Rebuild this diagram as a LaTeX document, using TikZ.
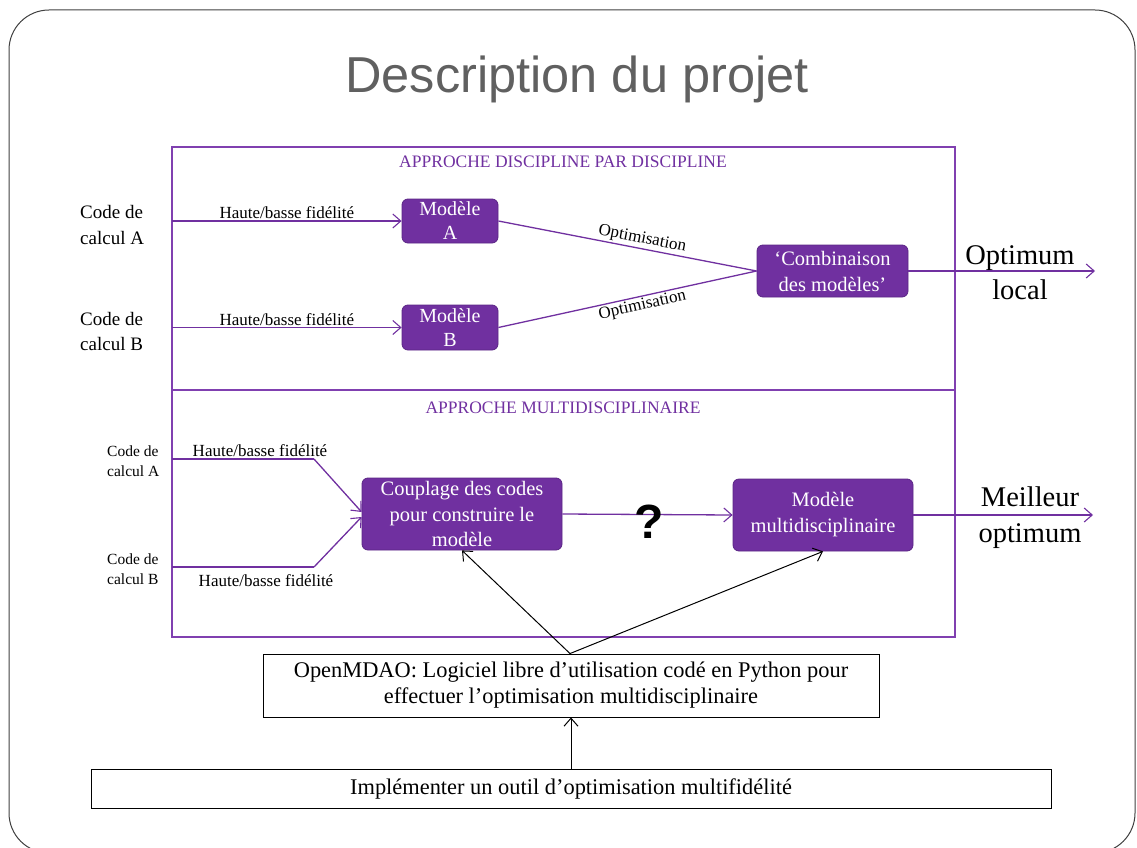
\documentclass[tikz,border=0pt]{standalone}
\usepackage{fontspec}
\setmainfont{Liberation Serif}
\newfontfamily\sansfam{Liberation Sans}
\usetikzlibrary{arrows.meta}
\definecolor{violet1}{RGB}{112,48,160}
\definecolor{violetframe}{RGB}{128,64,176}
\definecolor{violetdark}{RGB}{90,37,133}
\definecolor{titlegray}{RGB}{96,96,96}
\tikzset{
  pbox/.style={draw=violetdark, line width=0.8pt, fill=violet1, rounded corners=6pt,
    text=white, align=center, inner sep=0pt},
  wbox/.style={draw=black, line width=0.9pt, fill=white, align=center, inner sep=0pt},
  parrow/.style={draw=violet1, line width=1.3pt, -{Straight Barb[length=8pt,width=14pt,line width=1.1pt]}},
  pline/.style={draw=violet1, line width=1.3pt},
  barrow/.style={draw=black, line width=1pt, -{Straight Barb[length=8pt,width=14pt,line width=1pt]}},
  lbl/.style={inner sep=1.5pt, font=\fontsize{17}{20}\selectfont},
}
\begin{document}
\begin{tikzpicture}[x=1pt,y=-1pt]
\useasboundingbox (0,0) rectangle (1137,848);
% outer slide frame
\draw[draw=black!75, line width=1pt, rounded corners=40pt] (9,10) rectangle (1135,853);
% title
\node[anchor=base, text=titlegray, font=\sansfam\fontsize{50.5}{60}\selectfont] (title) at (577,93) {Description du projet};
% purple frame
\draw[draw=violetframe, line width=1.4pt] (172,147) rectangle (955,637);
\draw[draw=violetframe, line width=1.4pt] (172,390) -- (955,390);
\node[text=violet1, font=\fontsize{17.5}{20}\selectfont] (t1) at (563,162) {APPROCHE DISCIPLINE PAR DISCIPLINE};
\node[text=violet1, font=\fontsize{17.5}{20}\selectfont] (t2) at (563,408) {APPROCHE MULTIDISCIPLINAIRE};

% ---------- upper section
\node[anchor=west, align=left, inner sep=0pt, font=\fontsize{19}{25}\selectfont] (cA) at (80,225) {Code de\\calcul A};
\node[anchor=west, align=left, inner sep=0pt, font=\fontsize{19}{25}\selectfont] (cB) at (80,331) {Code de\\calcul B};
\coordinate (inA) at (172,221);
\coordinate (inB) at (172,327.5);

\node[pbox, minimum width=96pt, minimum height=44pt, font=\fontsize{20}{24}\selectfont] (mA) at (450,221) {Modèle\\A};
\node[pbox, minimum width=96pt, minimum height=45pt, font=\fontsize{20}{24}\selectfont] (mB) at (450,327.5) {Modèle\\B};
\node[pbox, minimum width=151pt, minimum height=52pt, font=\fontsize{20.5}{26}\selectfont] (comb) at (832.5,271) {‘Combinaison\\des modèles’};

\draw[parrow] (inA) -- node[lbl, above] {Haute/basse fidélité} (mA.west);
\draw[parrow] (inB) -- node[lbl, above] {Haute/basse fidélité} (mB.west);
\draw[pline] (mA.east) -- node[lbl, above, sloped, pos=0.55] {Optimisation} (comb.west);
\draw[pline] (mB.east) -- node[lbl, below, sloped, pos=0.55] {Optimisation} (comb.west);

\coordinate (outA) at (1095,271);
\draw[parrow] (comb.east) -- (outA);
\node[align=center, inner sep=0pt, font=\fontsize{28.5}{35}\selectfont] (optl) at (1020,273) {Optimum\\local};

% ---------- lower section
\node[anchor=west, align=left, inner sep=0pt, font=\fontsize{15.5}{19.5}\selectfont] (cA2) at (107,461) {Code de\\calcul A};
\node[anchor=west, align=left, inner sep=0pt, font=\fontsize{15.5}{19.5}\selectfont] (cB2) at (107,569) {Code de\\calcul B};
\coordinate (inA2) at (172,459);
\coordinate (inB2) at (172,567);
\coordinate (bA) at (314,459);
\coordinate (bB) at (314,567);

\node[pbox, minimum width=200pt, minimum height=72pt, font=\fontsize{20.5}{25.5}\selectfont] (cpl) at (462,514) {Couplage des codes\\pour construire le\\modèle};
\node[pbox, minimum width=180pt, minimum height=72pt, font=\fontsize{20.5}{26}\selectfont] (multi) at (823,515) {Modèle\\multidisciplinaire};

\draw[pline] (inA2) -- node[lbl, above, xshift=17pt] {Haute/basse fidélité} (bA);
\draw[parrow] (bA) -- ([yshift=2pt]cpl.west);
\draw[pline] (inB2) -- node[lbl, below, xshift=23pt, yshift=-5pt] {Haute/basse fidélité} (bB);
\draw[parrow] (bB) -- ([yshift=-3pt]cpl.west);

\draw[parrow] (cpl.east) -- (multi.west);
\node[font=\sansfam\bfseries\fontsize{48}{54}\selectfont, inner sep=0pt] (q) at (649,522) {?};

\coordinate (outB) at (1093,515);
\draw[parrow] (multi.east) -- (outB);
\node[align=center, inner sep=0pt, font=\fontsize{28.5}{36}\selectfont] (mopt) at (1030,518) {Meilleur\\optimum};

% ---------- bottom boxes
\node[wbox, minimum width=616pt, minimum height=63pt, font=\fontsize{22.4}{26}\selectfont] (open) at (571,685.5) {OpenMDAO: Logiciel libre d’utilisation codé en Python pour\\effectuer l’optimisation multidisciplinaire};
\node[wbox, minimum width=960pt, minimum height=39pt, font=\fontsize{22.4}{26}\selectfont] (impl) at (571,788.5) {Implémenter un outil d’optimisation multifidélité};

\draw[barrow] ([xshift=-1pt]open.north) -- (cpl.south);
\draw[barrow] ([xshift=-1pt]open.north) -- (multi.south);
\draw[barrow] (impl.north) -- (open.south);
\end{tikzpicture}
\end{document}
